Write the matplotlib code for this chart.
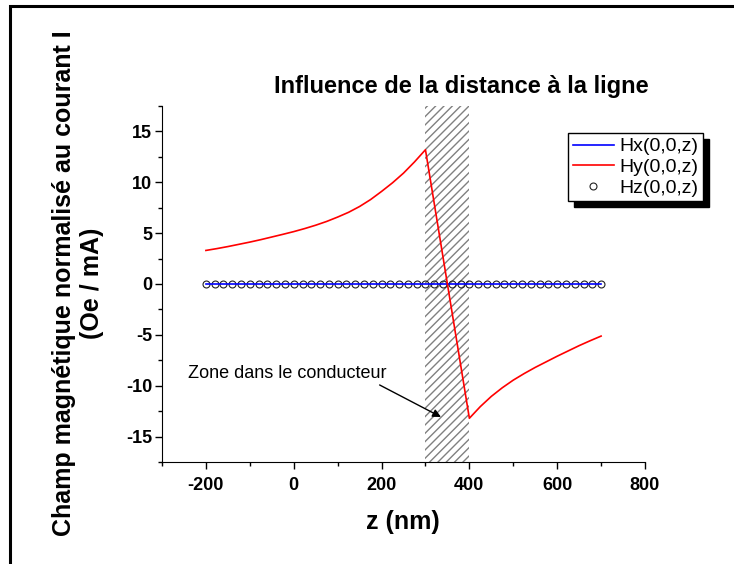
import matplotlib
matplotlib.use('Agg')
import matplotlib.pyplot as plt
from matplotlib.patches import Rectangle
from matplotlib.transforms import IdentityTransform
from matplotlib.ticker import MultipleLocator
import numpy as np

plt.rcParams['font.family'] = ['Liberation Sans', 'DejaVu Sans']
plt.rcParams['hatch.linewidth'] = 1.0
plt.rcParams['axes.unicode_minus'] = False

# z grid for Hx / Hz (nm)
z_grid = np.arange(-200, 701, 20)
hx = np.zeros(len(z_grid))
hz = np.zeros(len(z_grid))

# Hy (Oe / mA)
hy_z = [-200, -175, -150, -125, -100, -75, -50, -25, 0, 25, 50, 75, 100,
        125, 150, 175, 200, 225, 250, 275, 300,
        400, 425, 450, 475, 500, 525, 550, 575, 600, 625, 650, 675, 700]
hy = [3.30, 3.48, 3.68, 3.90, 4.12, 4.36, 4.62, 4.88, 5.15, 5.45, 5.78, 6.15, 6.58,
      7.05, 7.62, 8.30, 9.10, 9.95, 10.90, 12.00, 13.20,
      -13.20, -12.05, -11.05, -10.20, -9.45, -8.80, -8.20, -7.65, -7.10, -6.58,
      -6.06, -5.58, -5.12]

zone = (300, 400)

fig = plt.figure(figsize=(7.34, 5.64), dpi=100)
ax = fig.add_axes([162/734, 1 - 462/564, 483/734, 356/564])
ax.patch.set_visible(False)

ax.axvspan(zone[0], zone[1], fill=False, hatch='////', edgecolor='0.5',
           linewidth=0, zorder=1)
ax.plot(z_grid, hz, linestyle='none', marker='o', markersize=5,
        markerfacecolor='none', markeredgecolor='#222222', markeredgewidth=0.8,
        label='Hz(0,0,z)', zorder=3)
ax.plot(z_grid, hx, color='#0000ff', lw=1.2, label='Hx(0,0,z)', zorder=4)
ax.plot(hy_z, hy, color='#ff0000', lw=1.2, label='Hy(0,0,z)', zorder=4)

ax.set_xlim(-300, 800)
ax.set_ylim(-17.5, 17.5)
ax.xaxis.set_major_locator(MultipleLocator(200))
ax.xaxis.set_minor_locator(MultipleLocator(100))
ax.yaxis.set_major_locator(MultipleLocator(5))
ax.yaxis.set_minor_locator(MultipleLocator(2.5))
ax.spines['top'].set_visible(False)
ax.spines['right'].set_visible(False)
ax.tick_params(which='major', direction='out', length=5, width=1, labelsize=13)
ax.tick_params(which='minor', direction='out', length=3, width=1)
ax.tick_params(axis='x', pad=6)
ax.tick_params(axis='y', pad=2)
for lab in ax.get_xticklabels() + ax.get_yticklabels():
    lab.set_fontweight('bold')

ax.text(-241, -8.75, 'Zone dans le conducteur', fontsize=13, va='center', ha='left')
ax.annotate('', xy=(341, -13.2), xytext=(190, -9.8),
            arrowprops=dict(arrowstyle='-|>', color='k', lw=1, mutation_scale=12))

h, l = ax.get_legend_handles_labels()
order = [1, 2, 0]
leg = ax.legend([h[i] for i in order], [l[i] for i in order],
                loc='upper left', bbox_to_anchor=((568-162)/483, (462-133)/356),
                borderaxespad=0, fontsize=14, frameon=True, fancybox=False,
                edgecolor='k', framealpha=1, handlelength=2.1, handletextpad=0.3,
                labelspacing=0.15, borderpad=0.25)
leg.get_frame().set_linewidth(1)

fig.text(461/734, 1 - 87/564, 'Influence de la distance à la ligne',
         fontsize=17, fontweight='bold', ha='center', va='center')
fig.text(403/734, 1 - 522/564, 'z (nm)', fontsize=18, fontweight='bold',
         ha='center', va='center')
fig.text(78/734, 1 - 283/564, 'Champ magnétique normalisé au courant I\n(Oe / mA)',
         fontsize=18, fontweight='bold', ha='center', va='center',
         rotation=90, multialignment='center', linespacing=1.2)

# figure frame
fig.add_artist(Rectangle((10/734, -0.2), 1.2, 1.2 - 6/564, transform=fig.transFigure,
                         fill=False, edgecolor='k', linewidth=2.2))

# legend shadow
fig.canvas.draw()
bb = leg.get_frame().get_window_extent(fig.canvas.get_renderer())
fig.add_artist(Rectangle((bb.x0 + 6, bb.y0 - 6), bb.width, bb.height,
                         transform=IdentityTransform(), facecolor='k',
                         edgecolor='k', zorder=-1))

fig.savefig('out.png', dpi=100)
